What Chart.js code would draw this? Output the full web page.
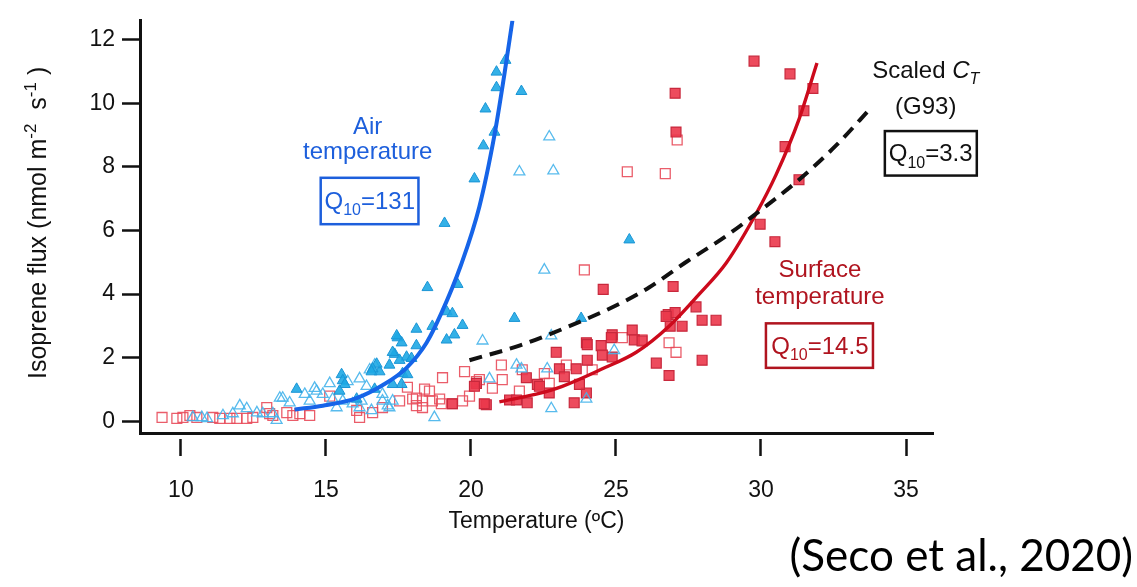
<!DOCTYPE html>
<html>
<head>
<meta charset="utf-8">
<script src="https://cdn.jsdelivr.net/npm/chart.js@4/dist/chart.umd.min.js"></script>
<style>
  html, body { margin: 0; padding: 0; background: #fff; }
  #wrap { width: 1137px; height: 587px; }
</style>
</head>
<body>
<div id="wrap"><canvas id="canvas" width="1137" height="587"></canvas></div>
<script>
var xTicks = [10, 15, 20, 25, 30, 35];
var yTicks = [0, 2, 4, 6, 8, 10, 12];

/* [temperature (C), isoprene flux] */
var airFilled = [[21.19,11.36],[20.88,10.99],[20.88,10.50],[21.74,10.38],[20.50,9.83],[20.81,9.10],[20.43,8.67],[20.12,7.63],
  [19.09,6.23],[18.50,4.21],[19.54,4.31],[19.16,3.45],[19.36,3.39],[18.67,2.99],[19.71,3.02],[19.43,2.72],[19.16,2.56],
  [21.50,3.24],[23.80,3.24],[25.46,5.71],[18.12,2.90],[17.47,2.63],[17.61,2.47],[18.12,2.38],[17.37,2.11],[17.78,2.02],
  [17.95,1.98],[17.19,1.77],[17.64,1.50],[16.85,1.56],[17.61,1.16],[13.99,1.01],[15.54,1.47],[15.58,1.28],[15.65,1.16],
  [16.75,1.80],[16.61,1.65],[16.57,1.56],[17.44,2.69],[17.30,2.17],[17.54,1.92],[17.81,1.47],[16.68,1.01],[16.06,0.70],
  [15.47,0.95],[17.30,1.16]];
var airOpen = [[22.70,8.95],[21.67,7.85],[22.84,7.88],[22.53,4.76],[20.40,2.53],[22.77,2.69],[21.57,1.77],[21.74,1.65],
  [20.64,1.34],[22.63,1.65],[22.77,0.40],[23.98,0.70],[24.94,2.23],[18.74,0.12],[17.13,0.49],[16.95,0.64],[15.13,1.19],
  [14.61,1.04],[14.27,0.85],[16.16,1.34],[16.40,1.10],[15.75,1.25],[14.89,0.85],[16.95,0.85],[16.23,0.64],[17.19,0.43],
  [15.23,0.70],[15.92,0.55],[16.57,0.34],[17.30,0.64],[13.51,0.73],[13.75,0.58],[12.03,0.49],[12.27,0.40],[12.62,0.27],
  [11.45,0.18],[10.72,0.12],[13.17,0.24],[13.30,0.03],[10.41,0.12],[10.90,0.09],[11.79,0.24],[12.82,0.24],[13.41,0.73],
  [14.44,0.64],[14.68,0.95],[16.51,1.62],[16.68,1.77],[16.16,0.43],[15.58,0.64],[15.37,0.43]];
var surfFilled = [[29.76,11.33],[31.00,10.93],[31.79,10.47],[31.48,9.77],[27.04,10.32],[27.07,9.10],[30.83,8.64],[31.31,7.60],
  [29.97,6.20],[30.48,5.65],[26.97,4.24],[27.76,3.60],[26.80,3.36],[27.04,3.42],[26.87,2.99],[27.28,2.99],[27.97,3.18],
  [28.45,3.18],[26.39,1.83],[27.97,1.92],[26.83,1.44],[24.56,4.15],[24.87,2.72],[25.56,2.87],[25.63,2.56],[25.90,2.53],
  [23.98,2.47],[22.94,2.17],[24.49,2.38],[24.53,2.08],[24.87,2.02],[24.01,1.92],[23.05,1.65],[23.63,1.65],[23.22,1.40],
  [21.91,1.37],[22.29,1.16],[20.19,1.19],[20.12,1.10],[22.70,0.89],[23.98,0.89],[21.33,0.67],[21.94,0.58],[21.57,0.67],
  [20.53,0.52],[23.56,0.58],[19.36,0.55],[23.74,1.16],[22.36,1.10],[24.01,2.41],[24.84,2.63],[26.73,3.30],[20.46,0.55]];
var surfOpen = [[9.35,0.12],[9.86,0.09],[10.07,0.12],[10.31,0.18],[10.55,0.12],[11.10,0.12],[11.34,0.09],[11.69,0.09],
  [11.93,0.09],[12.27,0.09],[12.48,0.12],[12.96,0.43],[13.06,0.24],[13.17,0.18],[13.65,0.27],[13.86,0.18],[14.10,0.24],
  [14.44,0.18],[15.13,0.79],[16.06,0.34],[16.16,0.12],[16.61,0.27],[16.95,0.43],[17.54,0.64],[17.81,1.07],[18.12,0.73],
  [18.40,1.01],[18.33,0.64],[18.57,0.95],[18.67,0.64],[18.92,0.70],[19.02,1.37],[19.36,0.55],[19.71,0.64],[19.78,1.56],
  [20.19,1.25],[18.98,0.55],[18.33,0.43],[18.12,0.49],[21.05,1.77],[20.29,1.31],[19.95,0.79],[21.08,1.31],[20.74,1.04],
  [21.77,1.62],[22.53,1.50],[22.70,1.19],[23.29,1.77],[24.18,1.62],[25.22,2.63],[25.90,2.56],[21.67,0.95],[17.99,0.70],
  [23.91,4.76],[26.83,2.47],[27.07,2.17],[25.39,7.85],[26.70,7.79],[27.11,8.85]];

/* fitted curves, points */
var airFit = [[13.92,0.37],[14.89,0.49],[16.06,0.73],[16.95,1.13],[17.78,1.68],[18.47,2.47],[18.98,3.40],[19.65,4.90],
  [20.29,6.75],[20.81,9.00],[21.15,10.90],[21.43,12.61]];
var surfFit = [[20.98,0.61],[22.25,0.85],[23.15,1.10],[24.53,1.65],[25.70,2.17],[26.83,2.99],[27.87,4.00],[28.80,4.98],
  [29.83,6.53],[30.52,7.76],[31.31,9.50],[31.93,11.27]];
var g93Fit = [[19.95,1.92],[21.67,2.38],[23.39,2.99],[25.11,3.69],[26.14,4.21],[27.42,5.01],[28.80,5.83],[29.93,6.60],
  [31.31,7.60],[32.58,8.67],[33.82,9.89]];

var FONT = "'Liberation Sans', Arial, Helvetica, sans-serif";
var BLUE = '#1d5fdc', RED = '#b0141f', INK = '#111';

/* annotation text, placed in data units */
var notes = [
  { color: BLUE, x: 16.44, lines: [[[{t:'Air'}], 9.04], [[{t:'temperature'}], 8.24]],
    q: '131', qx: 16.51, qy: 6.69, box: [14.82, 18.19, 7.66, 6.20] },
  { color: INK, x: 35.68, lines: [[[{t:'Scaled '}, {t:'C', it:true}, {t:'T', it:true, sub:true}], 10.81], [[{t:'(G93)'}], 9.68]],
    q: '3.3', qx: 35.85, qy: 8.18, box: [34.27, 37.44, 9.13, 7.73] },
  { color: RED, x: 32.03, lines: [[[{t:'Surface'}], 4.55], [[{t:'temperature'}], 3.69]],
    q: '14.5', qx: 32.03, qy: 2.11, box: [30.17, 33.86, 3.08, 1.68] }
];

function pts(a) {
  return a.map(function (p) { return { x: p[0], y: p[1] }; });
}

function drawRich(ctx, segs, cx, by, size, color) {
  var w = 0;
  segs.forEach(function (s) {
    s.fs = (s.sub || s.sup) ? Math.round(size * 0.68) : size;
    ctx.font = (s.it ? 'italic ' : '') + s.fs + 'px ' + FONT;
    s.w = ctx.measureText(s.t).width;
    w += s.w;
  });
  var x = cx - w / 2;
  ctx.fillStyle = color;
  ctx.textAlign = 'left';
  ctx.textBaseline = 'alphabetic';
  segs.forEach(function (s) {
    ctx.font = (s.it ? 'italic ' : '') + s.fs + 'px ' + FONT;
    var dy = s.sub ? size * 0.26 : (s.sup ? -size * 0.42 : 0);
    ctx.fillText(s.t, x, by + dy);
    x += s.w;
  });
}

var notesPlugin = {
  id: 'notes',
  afterDraw: function (chart) {
    var ctx = chart.ctx, xs = chart.scales.x, ys = chart.scales.y;
    ctx.save();
    notes.forEach(function (n) {
      n.lines.forEach(function (l) {
        drawRich(ctx, l[0], xs.getPixelForValue(n.x), ys.getPixelForValue(l[1]), 24, n.color);
      });
      drawRich(ctx, [{t:'Q'}, {t:'10', sub:true}, {t:'=' + n.q}], xs.getPixelForValue(n.qx), ys.getPixelForValue(n.qy), 24, n.color);
      var x1 = xs.getPixelForValue(n.box[0]), x2 = xs.getPixelForValue(n.box[1]);
      var y1 = ys.getPixelForValue(n.box[2]), y2 = ys.getPixelForValue(n.box[3]);
      ctx.strokeStyle = n.color;
      ctx.lineWidth = 2.5;
      ctx.strokeRect(x1, y1, x2 - x1, y2 - y1);
    });

    // y axis title with superscripts
    ctx.save();
    ctx.translate(37, (chart.chartArea.top + chart.chartArea.bottom) / 2 - 4);
    ctx.rotate(-Math.PI / 2);
    drawRich(ctx, [{t:'Isoprene flux (nmol m'}, {t:'-2', sup:true}, {t:'  s'}, {t:'-1', sup:true}, {t:' )'}], 0, 9, 25, INK);
    ctx.restore();

    // source line
    var txt = '(Seco et al., 2020)';
    ctx.font = '46px Lato, Carlito, Calibri, sans-serif';
    var fs = 46 * 343 / ctx.measureText(txt).width;
    ctx.font = fs.toFixed(1) + 'px Lato, Carlito, Calibri, sans-serif';
    ctx.fillStyle = '#000';
    ctx.textAlign = 'right';
    ctx.textBaseline = 'alphabetic';
    ctx.fillText(txt, 1133, 571);
    ctx.restore();
  }
};

Chart.defaults.font.family = FONT;
Chart.defaults.font.size = 23;
Chart.defaults.color = INK;

var myChart = new Chart(document.getElementById('canvas').getContext('2d'), {
  type: 'scatter',
  data: {
    datasets: [
      { label: 'Scaled CT (G93)', data: pts(g93Fit), showLine: true, borderColor: INK, borderWidth: 4,
        borderDash: [13, 8], pointRadius: 0, cubicInterpolationMode: 'monotone', order: 0 },
      { label: 'Air temperature fit', data: pts(airFit), showLine: true, borderColor: '#1664e8', borderWidth: 4,
        pointRadius: 0, cubicInterpolationMode: 'monotone', order: 1 },
      { label: 'Surface temperature fit', data: pts(surfFit), showLine: true, borderColor: '#cc0a1c', borderWidth: 3.4,
        pointRadius: 0, cubicInterpolationMode: 'monotone', order: 2 },
      { label: 'Air, filled', data: pts(airFilled), pointStyle: 'triangle', pointRadius: 6.3,
        backgroundColor: 'rgba(30,168,228,0.9)', borderColor: '#1a95d5', borderWidth: 1, order: 3 },
      { label: 'Air, open', data: pts(airOpen), pointStyle: 'triangle', pointRadius: 6.3,
        backgroundColor: 'rgba(255,255,255,0)', borderColor: 'rgba(70,180,235,0.9)', borderWidth: 1.3, order: 4 },
      { label: 'Surface, filled', data: pts(surfFilled), pointStyle: 'rect', pointRadius: 7,
        backgroundColor: 'rgba(235,55,75,0.9)', borderColor: '#c8283c', borderWidth: 1.2, order: 5 },
      { label: 'Surface, open', data: pts(surfOpen), pointStyle: 'rect', pointRadius: 7,
        backgroundColor: 'rgba(255,255,255,0)', borderColor: 'rgba(232,75,90,0.9)', borderWidth: 1.3, order: 6 }
    ]
  },
  options: {
    responsive: false,
    animation: false,
    events: [],
    layout: { padding: { top: 8, right: 204, left: 0, bottom: 0 } },
    plugins: { legend: { display: false }, tooltip: { enabled: false } },
    scales: {
      x: {
        type: 'linear', min: 8.59, max: 35.93,
        afterBuildTicks: function (s) { s.ticks = xTicks.map(function (v) { return { value: v }; }); },
        afterFit: function (s) { s.height = 154; },
        border: { display: true, color: INK, width: 3 },
        grid: { drawOnChartArea: false, drawTicks: true, tickLength: 23, tickWidth: 2.5, tickColor: INK,
                tickBorderDash: [0, 4, 19, 60] },
        ticks: { padding: 21, color: INK, maxRotation: 0, font: { size: 23 } },
        title: { display: true, text: 'Temperature (ºC)', color: INK, font: { size: 23 }, padding: { top: 0, bottom: 52 } }
      },
      y: {
        type: 'linear', min: -0.37, max: 12.6,
        afterBuildTicks: function (s) { s.ticks = yTicks.map(function (v) { return { value: v }; }); },
        afterFit: function (s) { s.width = 140; },
        border: { display: true, color: INK, width: 3 },
        grid: { drawOnChartArea: false, drawTicks: true, tickLength: 18, tickWidth: 2.5, tickColor: INK },
        ticks: { padding: 7, color: INK, font: { size: 23 } }
      }
    }
  },
  plugins: [notesPlugin]
});
</script>
</body>
</html>
